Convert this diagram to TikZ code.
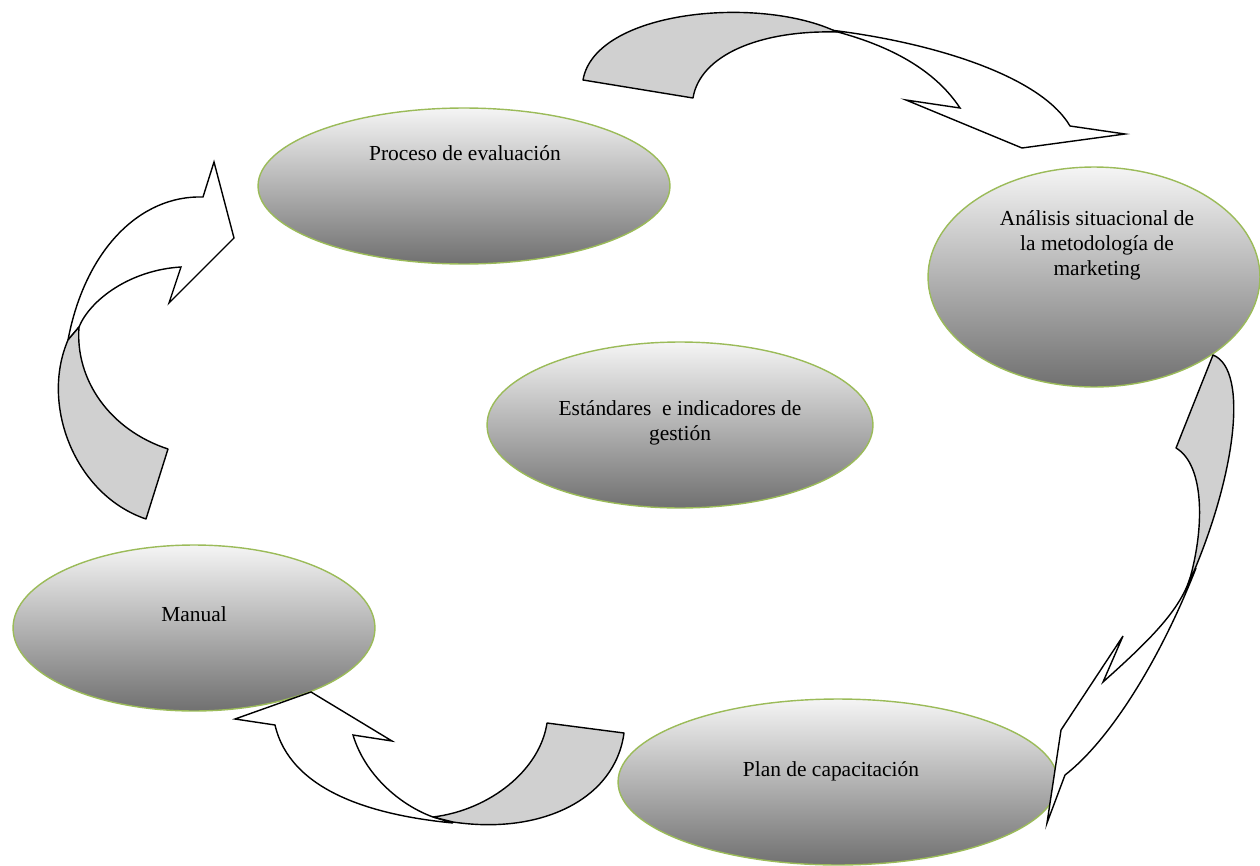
\documentclass[tikz,border=0pt]{standalone}
\usepackage{fontspec}
\setmainfont{Liberation Serif}
\usetikzlibrary{shapes.geometric}
\definecolor{rimgreen}{HTML}{9BBB59}
\definecolor{backgray}{HTML}{D0D0D0}
\begin{document}
\begin{tikzpicture}[x=0.02cm,y=-0.02cm,
  bubble/.style={ellipse,draw=rimgreen,line width=0.8pt,top color=white!96!black,bottom color=black!56,inner sep=0pt},
  lbl/.style={align=center,font=\fontsize{12.2}{14.2}\selectfont},
  back/.style={draw=black,line width=0.8pt,fill=backgray,line join=round},
  front/.style={draw=black,line width=0.8pt,fill=white}]
\useasboundingbox (0,0) rectangle (1260,865);
% the five stages
\node[bubble,minimum width=8.24cm,minimum height=3.12cm] (proc) at (464,186) {};
\node[bubble,minimum width=6.64cm,minimum height=4.4cm] (anal) at (1094,277) {};
\node[bubble,minimum width=7.72cm,minimum height=3.32cm] (est) at (680,425) {};
\node[bubble,minimum width=7.24cm,minimum height=3.32cm] (man) at (194,628) {};
\node[bubble,minimum width=8.8cm,minimum height=3.32cm] (plan) at (838,782) {};
\node[lbl] (proc-t) at (465,153) {Proceso de evaluación};
\node[lbl] (anal-t) at (1097,245) {Análisis situacional de\\ la metodología de\\ marketing};
\node[lbl] (est-t) at (680,423) {Estándares\ \ e indicadores de\\ gestión};
\node[lbl] (man-t) at (194,614) {Manual};
\node[lbl] (plan-t) at (831,771) {Plan de capacitación};
% top arrow
\draw[front] (830,30) .. controls (930,42) and (1040,75) .. (1070,126) -- (1125,134) -- (1022,148)
  -- (906,100) -- (960,108) .. controls (935,70) and (890,45) .. (830,30) -- cycle;
\draw[back] (583,80) .. controls (595,10) and (760,-5) .. (837,32)
  .. controls (760,30) and (700,55) .. (693,98) -- cycle;
% right arrow
\draw[front] (1196,568) .. controls (1160,660) and (1110,740) .. (1065,775) -- (1047,823) -- (1061,730)
  -- (1123,636) -- (1103,682) .. controls (1150,640) and (1180,610) .. (1190,578) -- cycle;
\draw[back] (1213,355) -- (1176,448) .. controls (1205,465) and (1205,530) .. (1188,585)
  .. controls (1235,480) and (1250,370) .. (1213,355) -- cycle;
% bottom arrow
\draw[front] (453,823) .. controls (370,815) and (290,790) .. (275,725) -- (235,719) -- (311,692)
  -- (392,741) -- (353,735) .. controls (365,775) and (400,805) .. (433,817) -- cycle;
\draw[back] (547,723) -- (624,733) .. controls (615,800) and (540,835) .. (453,822)
  -- (433,817) .. controls (490,810) and (540,770) .. (547,723) -- cycle;
% left arrow
\draw[front] (68,340) .. controls (85,250) and (140,195) .. (203,197) -- (214,162) -- (234,238)
  -- (169,303) -- (181,267) .. controls (130,270) and (90,300) .. (79,327) -- cycle;
\draw[back] (168,449) -- (146,519) .. controls (75,495) and (40,405) .. (68,340)
  -- (79,327) .. controls (75,380) and (110,430) .. (168,449) -- cycle;
\end{tikzpicture}
\end{document}
